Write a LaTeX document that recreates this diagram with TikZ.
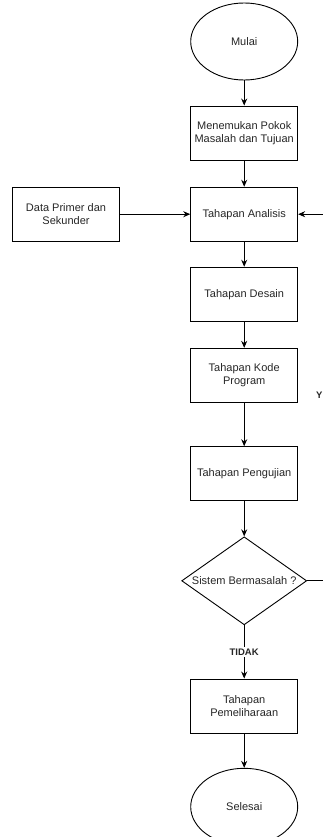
\documentclass[tikz,border=0pt]{standalone}
\usepackage{fontspec}
\setmainfont{Liberation Sans}
\usetikzlibrary{shapes.geometric,arrows.meta}

\tikzset{
  every node/.style={font=\fontsize{11}{13.3}\selectfont, text=black!85},
  process/.style={draw, line width=0.9pt, minimum width=107pt, minimum height=54pt,
                  inner sep=2pt, align=center},
  terminal/.style={draw, ellipse, line width=0.9pt, minimum width=107pt, minimum height=77pt,
                   inner sep=0pt},
  decision/.style={draw, diamond, line width=0.9pt, minimum width=125pt, minimum height=88pt,
                   inner sep=0pt, aspect=1.42},
  flow/.style={line width=0.9pt, -{Stealth[length=7pt,width=6pt]}},
  plain/.style={line width=0.9pt},
  edgelabel/.style={font=\fontsize{9.5}{11}\selectfont\bfseries, fill=white, inner sep=1.5pt}
}

\begin{document}
\begin{tikzpicture}[x=1pt, y=-1pt]
  \useasboundingbox (0,0) rectangle (323,837);
  \clip (0,0) rectangle (323,837);

  % main column
  \node[terminal] (mulai)    at (244.2,41.5)  {Mulai};
  \node[process]  (masalah)  at (244.2,133)   {Menemukan Pokok\\Masalah dan Tujuan};
  \node[process]  (analisis) at (244.2,214.2) {Tahapan Analisis};
  \node[process]  (data)     at (66,214.2)    {Data Primer dan\\Sekunder};
  \node[process]  (desain)   at (244.2,294.2) {Tahapan Desain};
  \node[process]  (kode)     at (244.2,375.3) {Tahapan Kode\\Program};
  \node[process]  (uji)      at (244.2,473.7) {Tahapan Pengujian};
  \node[decision] (cek)      at (244.2,580.8) {Sistem Bermasalah ?};
  \node[process]  (pelihara) at (244.2,706)   {Tahapan\\Pemeliharaan};
  \node[terminal] (selesai)  at (244.2,806.8) {Selesai};

  % loop back on the right side
  \coordinate (loopin)  at (330,214.2);
  \coordinate (loopout) at (330,580.8);
  \node[edgelabel, anchor=west, inner sep=0pt] (ya) at (315.8,395) {Y};

  % connectors
  \draw[flow] (mulai) -- (masalah);
  \draw[flow] (masalah) -- (analisis);
  \draw[flow] (data) -- (analisis);
  \draw[flow] (loopin) -- (analisis);
  \draw[flow] (analisis) -- (desain);
  \draw[flow] (desain) -- (kode);
  \draw[flow] (kode) -- (uji);
  \draw[flow] (uji) -- (cek);
  \draw[plain] (cek) -- (loopout);
  \draw[flow] (cek) -- node[edgelabel, pos=0.5] (tidak) {TIDAK} (pelihara);
  \draw[flow] (pelihara) -- (selesai);
\end{tikzpicture}
\end{document}
